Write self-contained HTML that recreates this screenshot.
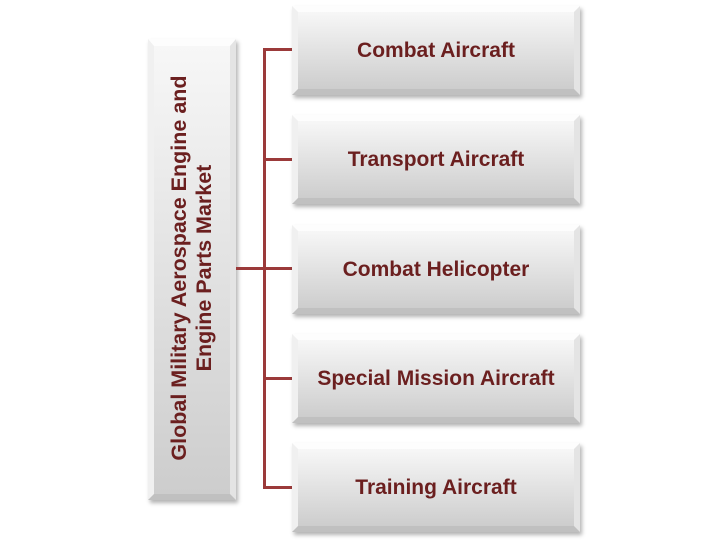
<!DOCTYPE html>
<html><head><meta charset="utf-8"><style>
html,body{margin:0;padding:0;background:#fff;}
body{width:728px;height:543px;position:relative;overflow:hidden;font-family:"Liberation Sans",sans-serif;}
.box{position:absolute;box-sizing:border-box;background:linear-gradient(#f7f7f7,#cdcdcd);
box-shadow:2px 3px 4px rgba(0,0,0,0.3);border-top:6px solid #fdfdfd;border-left:6px solid #f0f0f0;border-right:6px solid #e4e4e4;border-bottom:6px solid #c0c0c0;}
.r{left:292px;width:288px;height:89px;display:flex;align-items:center;justify-content:center;color:#6b1f1f;font-weight:bold;font-size:21px;}
.ln{position:absolute;background:#9b3a3a;}
.lt{position:absolute;left:192px;top:268px;width:460px;transform:translate(-50%,-50%) rotate(-90deg);text-align:center;color:#6b1f1f;font-weight:bold;font-size:21.5px;line-height:25px;}
</style></head><body>
<div class="box" style="left:148px;top:39px;width:88px;height:461px;border-top-width:7px;"></div>
<div class="lt">Global Military Aerospace Engine and<br>Engine Parts Market</div>
<div class="ln" style="left:263px;top:48px;width:3px;height:441px;"></div>
<div class="ln" style="left:236px;top:267px;width:56px;height:3px;"></div>
<div class="ln" style="left:263px;top:48px;width:29px;height:3px;"></div>
<div class="ln" style="left:263px;top:158px;width:29px;height:3px;"></div>
<div class="ln" style="left:263px;top:377px;width:29px;height:3px;"></div>
<div class="ln" style="left:263px;top:486px;width:29px;height:3px;"></div>
<div class="box r" style="top:6px;">Combat Aircraft</div>
<div class="box r" style="top:115px;">Transport Aircraft</div>
<div class="box r" style="top:225px;">Combat Helicopter</div>
<div class="box r" style="top:334px;">Special Mission Aircraft</div>
<div class="box r" style="top:443px;">Training Aircraft</div>
</body></html>
